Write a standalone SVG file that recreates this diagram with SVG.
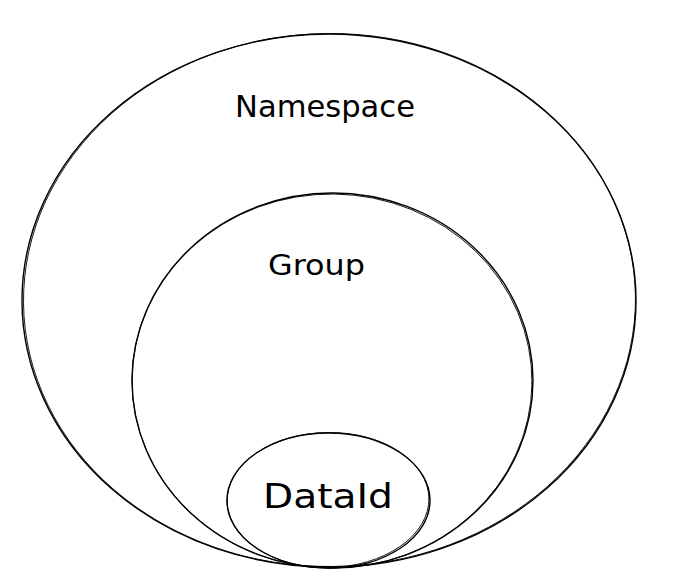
<svg xmlns="http://www.w3.org/2000/svg" width="677" height="577" viewBox="0 0 677 577">
  <style>
    .stroke { fill: none; stroke: #000000; stroke-width: 1.4; stroke-linecap: round; }
    .stroke2 { fill: none; stroke: #000000; stroke-width: 0.9; stroke-linecap: round; }
    .label { font-family: "DejaVu Sans", "Liberation Sans", sans-serif; fill: #000000; }
  </style>
  <rect width="677" height="577" fill="#ffffff"/>
  <g id="namespace">
    <ellipse class="stroke" cx="329" cy="300.5" rx="307" ry="266.5"/>
    <ellipse class="stroke2" cx="329.5" cy="300" rx="306" ry="266.5" transform="rotate(-0.6 329 300)"/>
    <text class="label" x="235" y="117" font-size="31" textLength="180" lengthAdjust="spacingAndGlyphs">Namespace</text>
  </g>
  <g id="group">
    <ellipse class="stroke" cx="332.5" cy="380.5" rx="200.5" ry="187.5"/>
    <ellipse class="stroke2" cx="332" cy="381" rx="200" ry="187" transform="rotate(0.8 332 380)"/>
    <text class="label" x="268" y="275" font-size="29" textLength="97" lengthAdjust="spacingAndGlyphs">Group</text>
  </g>
  <g id="dataid">
    <ellipse class="stroke" cx="328.5" cy="500.5" rx="101.5" ry="67.5"/>
    <ellipse class="stroke2" cx="328" cy="500" rx="101" ry="67.5" transform="rotate(-1 328 500)"/>
    <text class="label" x="263" y="508" font-size="33" textLength="130" lengthAdjust="spacingAndGlyphs">DataId</text>
  </g>
</svg>
